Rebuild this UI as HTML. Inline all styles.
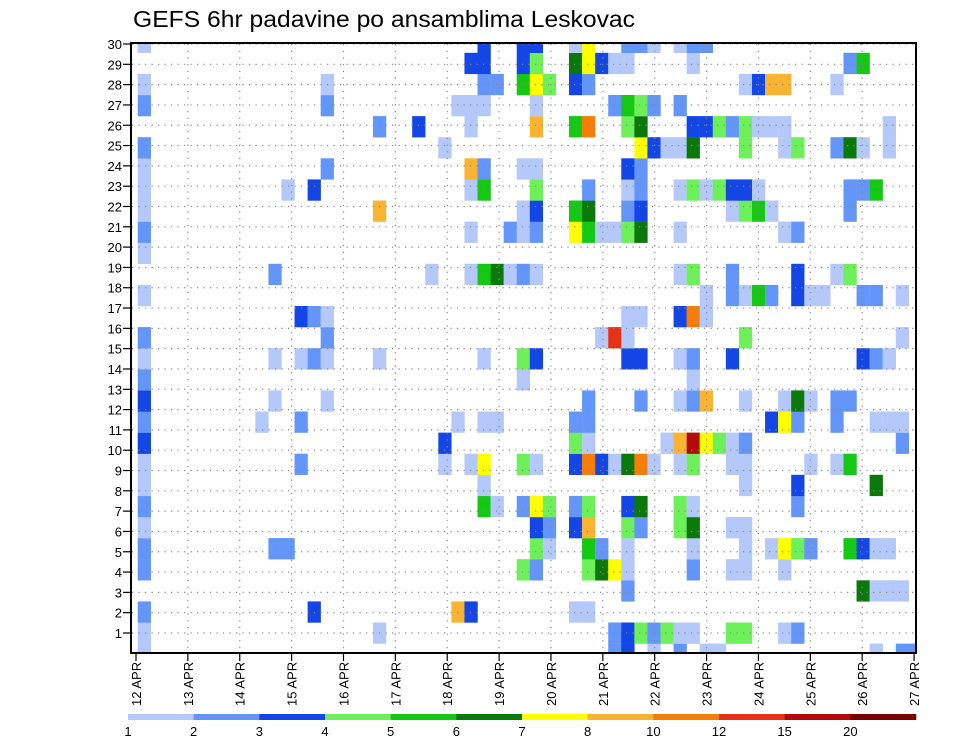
<!DOCTYPE html>
<html>
<head>
<meta charset="utf-8">
<style>
html,body{margin:0;padding:0;background:#fff;}
svg{display:block;}
text{font-family:"Liberation Sans",sans-serif;fill:#000;}
</style>
</head>
<body>
<svg id="chart" width="960" height="742" viewBox="0 0 960 742" xmlns="http://www.w3.org/2000/svg">
  <text x="133" y="27" font-size="23" textLength="502" lengthAdjust="spacingAndGlyphs">GEFS 6hr padavine po ansamblima Leskovac</text>
  <defs><clipPath id="plotclip"><rect x="131" y="43" width="785" height="610"/></clipPath></defs>
  <g id="cells" clip-path="url(#plotclip)"></g>
  <g id="grid"></g>
  <rect x="131" y="43" width="785" height="610" fill="none" stroke="#000" stroke-width="2"/>
  <g id="yaxis"></g>
  <g id="xaxis"></g>
  <g id="legend"></g>
</svg>
<script>
const memberRows = [
"0:1 36:2 37:3 39:1 41:2 43:1 44:1 56:1 58:2 59:2",
"0:1 18:1 36:2 37:3 38:4 39:2 40:4 41:1 42:1 45:4 46:4 49:1 50:2",
"0:2 13:3 24:8 25:3 33:1 34:1",
"37:2 55:6 56:1 57:1 58:1",
"0:2 29:4 30:2 34:4 35:6 36:7 37:1 42:2 45:1 46:1 49:1",
"0:2 10:2 11:2 30:4 31:1 34:5 35:2 37:1 42:1 46:1 48:1 49:7 50:4 51:2 54:5 55:3 56:1 57:1",
"0:1 30:3 31:2 33:3 34:8 37:4 38:2 41:4 42:6 45:1 46:1",
"0:2 26:5 27:1 29:2 30:7 31:4 33:2 34:4 37:3 38:6 41:4 42:1 50:2",
"0:1 26:1 46:1 50:3 56:6",
"0:1 12:2 23:1 25:1 26:7 29:4 30:1 33:3 34:9 35:3 36:1 37:6 38:9 39:1 41:1 42:4 45:1 46:1 51:1 53:1 54:5",
"0:3 23:3 33:4 34:1 40:1 41:8 42:11 43:7 44:4 45:1 46:2 58:2",
"0:2 9:1 12:2 24:1 26:1 27:1 33:2 34:2 48:3 49:7 50:2 53:2 56:1 57:1 58:1",
"0:3 10:1 14:1 34:2 38:2 41:1 42:2 43:8 46:1 49:1 50:6 51:1 53:2 54:2",
"0:2 29:1 42:1",
"0:1 10:1 12:1 13:2 14:1 18:1 26:1 29:4 30:3 37:3 38:3 41:1 42:2 45:3 55:3 56:2 57:1",
"0:2 14:2 35:1 36:10 37:1 46:4 58:1",
"12:3 13:2 14:1 37:1 38:1 41:3 42:9 43:1",
"0:1 43:1 45:2 46:1 47:5 48:2 50:3 51:1 52:1 55:2 56:2 58:1",
"10:2 22:1 25:1 26:5 27:6 28:1 29:2 30:1 41:1 42:4 45:2 50:3 53:1 54:4",
"0:1",
"0:2 25:1 28:2 29:1 30:2 33:7 34:5 35:1 36:1 37:4 38:6 41:1 49:1 50:2",
"0:1 18:8 29:1 30:3 33:5 34:6 37:2 38:3 45:1 46:4 47:5 48:1 54:2",
"0:1 11:1 13:3 25:1 26:5 30:4 34:2 37:1 38:2 41:1 42:4 43:1 44:4 45:3 46:3 47:1 54:2 55:2 56:5",
"0:1 14:2 25:8 26:2 29:1 30:1 37:3 38:2",
"0:2 23:1 38:7 39:3 40:1 41:1 42:6 46:4 49:1 50:4 53:2 54:6 55:1 57:1",
"18:2 21:3 25:1 30:8 33:5 34:9 37:4 38:6 42:3 43:3 44:4 45:2 46:4 47:1 48:1 49:1 57:1",
"0:2 14:2 24:1 25:1 26:1 30:1 36:2 37:5 38:4 39:2 41:2",
"0:1 14:1 26:2 27:2 29:5 30:7 31:4 33:3 34:2 46:1 47:3 48:8 49:8 53:1",
"25:3 26:3 29:3 30:4 33:6 34:7 35:3 36:1 37:1 42:1 54:2 55:5",
"0:1 26:3 29:3 30:3 33:1 34:7 37:2 38:2 39:1 41:1 42:2 43:2"
];
const dayLabels = ["12 APR","13 APR","14 APR","15 APR","16 APR","17 APR","18 APR","19 APR","20 APR","21 APR","22 APR","23 APR","24 APR","25 APR","26 APR","27 APR"];
const yTickLabels = [1,2,3,4,5,6,7,8,9,10,11,12,13,14,15,16,17,18,19,20,21,22,23,24,25,26,27,28,29,30];
const legendLabels = ["1","2","3","4","5","6","7","8","10","12","15","20"];
const levelColors = ["#b4c8fa","#6496fa","#1446e6","#6ef05a","#14c814","#0a780a","#ffff00","#fab432","#f57d0a","#e63214","#b40a0a","#780000"];

const NS = "http://www.w3.org/2000/svg";
function mk(tag, attrs, parent){ const e=document.createElementNS(NS,tag); for(const k in attrs) e.setAttribute(k,attrs[k]); parent.appendChild(e); return e; }
const colX = j => 137.7 + 13.07*j;
const colW = 13.07;
const memberTop = m => 664.7 - (m+1)*21.1;
const memberH = 21.1;
const yLabelY = k => 633 - (k-1)*20.31;
const dayX = d => 136 + 51.87*d;

const cellsG = document.getElementById('cells');
memberRows.forEach((row, m) => {
  row.split(' ').forEach(p => {
    if(!p) return;
    const [j, lv] = p.split(':').map(Number);
    const r = mk('rect', {x:colX(j), y:memberTop(m), width:colW+0.2, height:memberH+0.2, fill:levelColors[lv-1]}, cellsG);
    
    
  });
});

const gridG = document.getElementById('grid');
yTickLabels.forEach(k => {
  const l = mk('line', {x1:132, x2:915, y1:yLabelY(k), y2:yLabelY(k), stroke:'#888', 'stroke-width':1.2, 'stroke-dasharray':'1.2 5.3'}, gridG);
  
  
});
dayLabels.forEach((d, i) => {
  if(i===0 || i===dayLabels.length-1) return;
  const l = mk('line', {x1:dayX(i), x2:dayX(i), y1:44, y2:652, stroke:'#888', 'stroke-width':1.2, 'stroke-dasharray':'1.2 5.5'}, gridG);
  
  
});

const yG = document.getElementById('yaxis');
yTickLabels.forEach(k => {
  const y = yLabelY(k);
  const t = mk('line', {x1:123, x2:131, y1:y, y2:y, stroke:'#000', 'stroke-width':1.2}, yG);
  
  
  const tx = mk('text', {x:122, y:y+5, 'font-size':13, 'text-anchor':'end'}, yG);
  tx.textContent = k;
  
  
});

const xG = document.getElementById('xaxis');
dayLabels.forEach((d, i) => {
  const x = dayX(i);
  const t = mk('line', {x1:x, x2:x, y1:653, y2:661, stroke:'#000', 'stroke-width':1.2}, xG);
  
  
  const tx = mk('text', {x:0, y:0, 'font-size':13, transform:`translate(${x+5},706) rotate(-90)`}, xG);
  tx.textContent = d;
  
  
});

const lg = document.getElementById('legend');
const segW = (916-128)/levelColors.length;
levelColors.forEach((c, i) => {
  const r = mk('rect', {x:128+segW*i, y:714, width:segW+0.3, height:6, fill:c}, lg);
  
  
});
legendLabels.forEach((s, i) => {
  const t = mk('text', {x:128+segW*i, y:736, 'font-size':13, 'text-anchor':'middle'}, lg);
  t.textContent = s;
  
  
});
</script>
</body>
</html>
